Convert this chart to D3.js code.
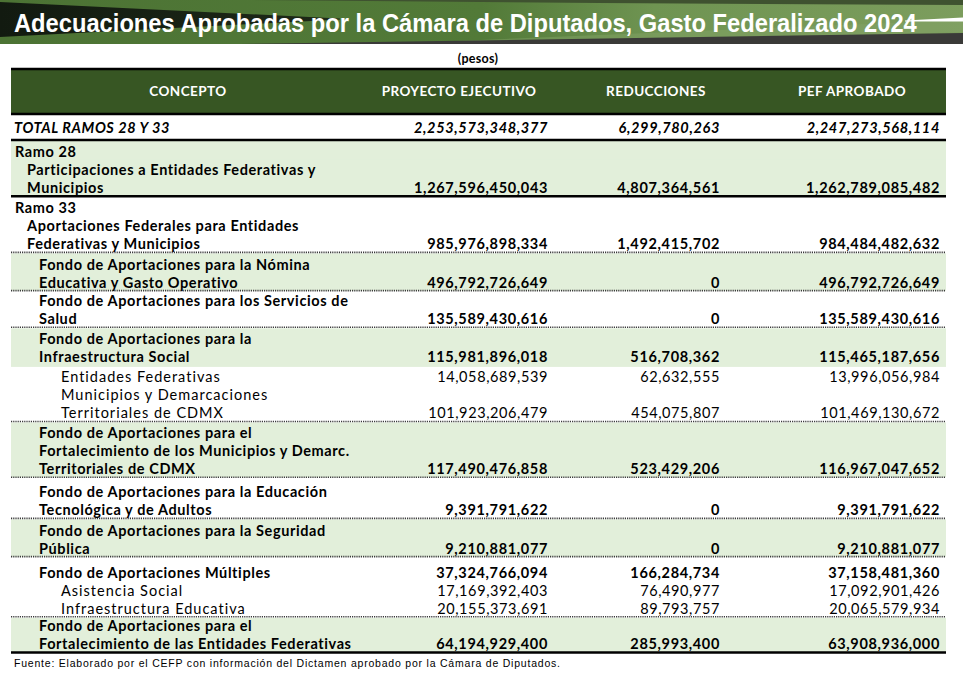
<!DOCTYPE html>
<html lang="es">
<head>
<meta charset="utf-8">
<script src="https://cdn.jsdelivr.net/npm/d3@7"></script>
<style>
  html, body { margin: 0; padding: 0; background: #ffffff; }
  svg { display: block; }
</style>
</head>
<body>
<script>
// ---------------- DATA ----------------
const titulo = "Adecuaciones Aprobadas por la Cámara de Diputados, Gasto Federalizado 2024";
const unidades = "(pesos)";
const columnas = ["CONCEPTO", "PROYECTO EJECUTIVO", "REDUCCIONES", "PEF APROBADO"];
const fuente = "Fuente: Elaborado por el CEFP con información del Dictamen aprobado por la Cámara de Diputados.";

const conceptos = [
  "TOTAL RAMOS 28 Y 33",
  "Ramo 28",
  "Participaciones a Entidades Federativas y\nMunicipios",
  "Ramo 33",
  "Aportaciones Federales para Entidades\nFederativas y Municipios",
  "Fondo de Aportaciones para la Nómina\nEducativa y Gasto Operativo",
  "Fondo de Aportaciones para los Servicios de\nSalud",
  "Fondo de Aportaciones para la\nInfraestructura Social",
  "Entidades Federativas",
  "Municipios y Demarcaciones\nTerritoriales de CDMX",
  "Fondo de Aportaciones para el\nFortalecimiento de los Municipios y Demarc.\nTerritoriales de CDMX",
  "Fondo de Aportaciones para la Educación\nTecnológica y de Adultos",
  "Fondo de Aportaciones para la Seguridad\nPública",
  "Fondo de Aportaciones Múltiples",
  "Asistencia Social",
  "Infraestructura Educativa",
  "Fondo de Aportaciones para el\nFortalecimiento de las Entidades Federativas"
];

// hierarchy level of each concept: 0 total, 1 ramo, 2 ramo concept, 3 fondo, 4 sub-fondo
const niveles = [0, 1, 2, 1, 2, 3, 3, 3, 4, 4, 3, 3, 3, 3, 4, 4, 3];

const proyectoEjecutivo = [
  2253573348377, null, 1267596450043, null, 985976898334, 496792726649,
  135589430616, 115981896018, 14058689539, 101923206479, 117490476858,
  9391791622, 9210881077, 37324766094, 17169392403, 20155373691, 64194929400
];
const reducciones = [
  6299780263, null, 4807364561, null, 1492415702, 0,
  0, 516708362, 62632555, 454075807, 523429206,
  0, 0, 166284734, 76490977, 89793757, 285993400
];
const pefAprobado = [
  2247273568114, null, 1262789085482, null, 984484482632, 496792726649,
  135589430616, 115465187656, 13996056984, 101469130672, 116967047652,
  9391791622, 9210881077, 37158481360, 17092901426, 20065579934, 63908936000
];

// ---------------- LAYOUT / STYLE ----------------
const W = 963, H = 680;
const tblL = 11, tblR = 946;
const verdeOscuro = "#375623", verdeClaro = "#e2efda";
const fontBody = "Lato, 'Noto Sans', 'DejaVu Sans', sans-serif";

// separator after each row: "thick", "dot" or null
const separadores = ["thick", null, "thick", null, "dot", "dot", "dot", null, null, "dot",
                     "dot", "dot", "dot", null, null, "dot", "thick"];
// shaded rows (light green) - styling
const sombreadas = new Set([1, 2, 5, 7, 10, 12, 16]);
// small per-row top spacing adjustments (layout, mimics spreadsheet row heights)
const ajusteAlto = { 6: -1.5, 8: 2, 10: -0.5, 11: 3, 13: 4, 16: -2.5 };

const svg = d3.select("body").append("svg").attr("width", W).attr("height", H);
const defs = svg.append("defs");

// ---------- Banner ----------
const g1 = defs.append("linearGradient").attr("id", "bannerGrad").attr("x1", "0").attr("x2", "1").attr("y1", "0").attr("y2", "0");
g1.append("stop").attr("offset", "0%").attr("stop-color", "#4c7334");
g1.append("stop").attr("offset", "50%").attr("stop-color", "#527a38");
g1.append("stop").attr("offset", "68%").attr("stop-color", "#6f9452");
g1.append("stop").attr("offset", "100%").attr("stop-color", "#7c9d5d");

const g2 = defs.append("linearGradient").attr("id", "wedgeGrad").attr("x1", "0").attr("x2", "1");
g2.append("stop").attr("offset", "0%").attr("stop-color", "#121a10");
g2.append("stop").attr("offset", "100%").attr("stop-color", "#1e2a18");

const banner = svg.append("g");
banner.append("rect").attr("x", 0).attr("y", 0).attr("width", W).attr("height", 44).attr("fill", "url(#bannerGrad)");
const line = d3.line();
banner.append("path").attr("d", line([[250, 0], [W, 0], [W, 5], [600, 3]]) + "Z").attr("fill", "#3f5230");
banner.append("path").attr("d", line([[380, 44], [W, 20], [W, 32], [560, 44]]) + "Z").attr("fill", "#86a568").attr("opacity", 0.45);
banner.append("path").attr("d", line([[240, 44], [W, 33], [W, 44]]) + "Z").attr("fill", "#3a3a38");
banner.append("path").attr("d", line([[0, 2], [340, 18.5], [340, 19.5], [0, 37]]) + "Z").attr("fill", "url(#wedgeGrad)");
banner.append("path").attr("d", line([[905, 20.5], [W, 17.5], [W, 21.5], [905, 21.5]]) + "Z").attr("fill", "#ffffff");

const tituloTxt = banner.append("text")
  .attr("x", 0).attr("y", 0)
  .attr("font-family", "'Liberation Sans Narrow', 'Arial Narrow', 'Liberation Sans', Arial, sans-serif")
  .attr("font-weight", "bold").attr("font-size", 26).attr("fill", "#ffffff")
  .text(titulo);
const anchoNat = tituloTxt.node().getComputedTextLength();
const sx = 903 / anchoNat;
tituloTxt.attr("transform", `translate(14,32) scale(${sx},1)`);

// ---------- Units ----------
svg.append("text").attr("x", 478).attr("y", 63).attr("text-anchor", "middle")
  .attr("font-family", fontBody).attr("font-weight", "bold").attr("font-size", 12.5).attr("fill", "#000")
  .attr("letter-spacing", 0.3)
  .text(unidades);

// ---------- Header ----------
const headTop = 69, headBot = 114;
svg.append("rect").attr("x", tblL).attr("y", headTop).attr("width", tblR - tblL).attr("height", headBot - headTop).attr("fill", verdeOscuro);
const xCentro = d3.scaleOrdinal().domain(columnas).range([188, 459, 656, 852]);
svg.append("g").selectAll("text").data(columnas).join("text")
  .attr("x", d => xCentro(d)).attr("y", 96).attr("text-anchor", "middle")
  .attr("font-family", fontBody).attr("font-weight", "bold").attr("font-size", 13.5).attr("fill", "#ffffff")
  .attr("letter-spacing", 0.45)
  .text(d => d);

// ---------- Rows layout ----------
const series = [proyectoEjecutivo, reducciones, pefAprobado];
const xDerecha = d3.scaleOrdinal().domain([0, 1, 2]).range([548, 720, 940]);
const xIndent = d3.scaleOrdinal().domain([0, 1, 2, 3, 4]).range([14, 15, 27, 39, 61]);
const fmt = d3.format(",.0f");

const L = 18, pad = 0.6, baseOff = 15.5;
const filas = [];
let cursor = 141;
conceptos.forEach((c, i) => {
  const lineas = c.split("\n");
  let top, baselines, bottom;
  if (i === 0) {
    top = headBot; baselines = [133]; bottom = 140;
    cursor = 141;
  } else {
    if (separadores[i - 1]) cursor += pad;
    cursor += (ajusteAlto[i] || 0);
    top = cursor;
    baselines = lineas.map((_, k) => cursor + baseOff + k * L);
    cursor += lineas.length * L;
    bottom = cursor;
  }
  let sepY = null;
  if (i !== 0 && separadores[i]) {
    sepY = cursor + pad;
    cursor = sepY + 1;
  } else if (i === 0) sepY = 140;
  filas.push({ i, lineas, top, baselines, bottom, sepY, nivel: niveles[i] });
});

// shading
const gShade = svg.append("g");
filas.filter(f => sombreadas.has(f.i)).forEach(f => {
  const prev = filas[f.i - 1];
  const y0 = (prev && prev.sepY != null) ? prev.sepY + 1 : f.top;
  const y1 = f.sepY != null ? f.sepY : f.bottom + 2;
  gShade.append("rect").attr("x", tblL).attr("y", y0).attr("width", tblR - tblL).attr("height", y1 - y0).attr("fill", verdeClaro);
});

// header borders
svg.append("line").attr("x1", tblL).attr("x2", tblR).attr("y1", headTop).attr("y2", headTop).attr("stroke", "#000").attr("stroke-width", 2.5);
svg.append("line").attr("x1", tblL).attr("x2", tblR).attr("y1", headBot).attr("y2", headBot).attr("stroke", "#000").attr("stroke-width", 2.5);

// separators
const gSep = svg.append("g");
filas.filter(f => separadores[f.i]).forEach(f => {
  const tipo = separadores[f.i];
  gSep.append("line").attr("x1", tblL).attr("x2", tblR).attr("y1", f.sepY).attr("y2", f.sepY)
    .attr("stroke", tipo === "thick" ? "#000" : "#3a3a3a")
    .attr("stroke-width", tipo === "thick" ? 2.5 : 1.6)
    .attr("stroke-dasharray", tipo === "thick" ? null : "1.2,1");
});

// text
const gTxt = svg.append("g").attr("font-family", fontBody).attr("font-size", 14.5).attr("fill", "#000");
filas.forEach(f => {
  const esSub = f.nivel === 4;
  const esTotal = f.nivel === 0;
  const peso = esSub ? "normal" : "bold";
  const estilo = esTotal ? "italic" : "normal";
  f.lineas.forEach((ln, k) => {
    gTxt.append("text").attr("x", xIndent(f.nivel)).attr("y", f.baselines[k])
      .attr("font-weight", peso).attr("font-style", estilo)
      .attr("letter-spacing", esSub ? 1.0 : 0.6)
      .text(ln);
  });
  const yv = f.baselines[f.baselines.length - 1];
  series.forEach((s, j) => {
    if (s[f.i] == null) return;
    gTxt.append("text").attr("x", xDerecha(j)).attr("y", yv).attr("text-anchor", "end")
      .attr("font-weight", peso).attr("font-style", estilo)
      .attr("letter-spacing", esSub ? 0.6 : 0.65)
      .text(fmt(s[f.i]));
  });
});

// source
svg.append("text").attr("x", 14).attr("y", 667)
  .attr("font-family", "'Liberation Sans', Arial, sans-serif").attr("font-size", 10.5).attr("fill", "#000")
  .attr("textLength", 546).attr("lengthAdjust", "spacing")
  .text(fuente);
</script>
</body>
</html>
